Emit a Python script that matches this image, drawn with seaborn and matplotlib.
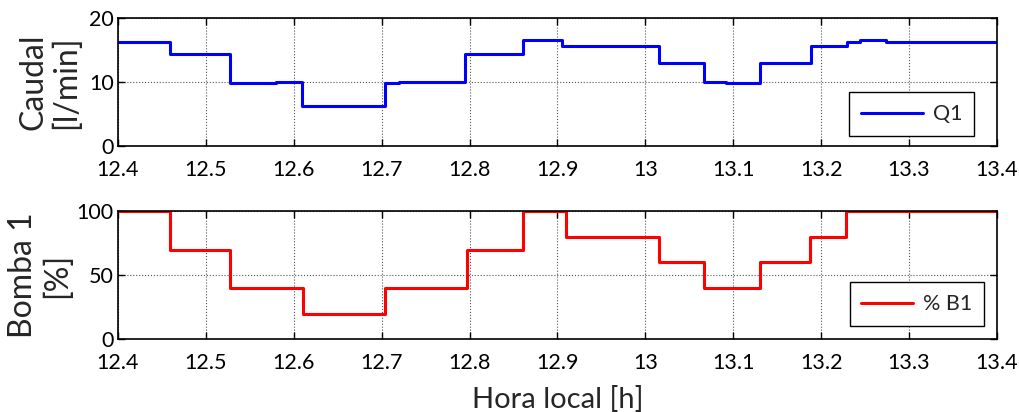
import numpy as np
import pandas as pd
import matplotlib
matplotlib.use("Agg")
import matplotlib.pyplot as plt
import seaborn as sns
from matplotlib.ticker import FormatStrFormatter, MultipleLocator

# Q1 flow [l/min], step breakpoints (time [h], value)
q1_time = [12.40, 12.459, 12.527, 12.58, 12.609, 12.704, 12.72, 12.795, 12.861,
           12.905, 13.015, 13.067, 13.092, 13.13, 13.188, 13.229, 13.244, 13.274, 13.40]
q1_vals = [16.3, 14.4, 9.8, 10.05, 6.3, 9.8, 10.05, 14.4, 16.6,
           15.7, 13.0, 10.05, 9.8, 13.0, 15.7, 16.3, 16.6, 16.3, 16.3]

# Pump 1 [%]
b1_time = [12.40, 12.459, 12.527, 12.611, 12.704, 12.797, 12.861, 12.91,
           13.016, 13.067, 13.13, 13.187, 13.228, 13.40]
b1_vals = [100, 70, 40, 20, 40, 70, 100, 80, 60, 40, 60, 80, 100, 100]

xticks = [12.4, 12.5, 12.6, 12.7, 12.8, 12.9, 13.0, 13.1, 13.2, 13.3, 13.4]

sns.set_theme(style="white")
plt.rcParams['font.family'] = ['Lato', 'DejaVu Sans']

fig = plt.figure(figsize=(10.19, 4.12), dpi=100)
ax1 = fig.add_axes([0.1158, 0.6456, 0.8626, 0.3107])
ax2 = fig.add_axes([0.1158, 0.1765, 0.8626, 0.3107])

df1 = pd.DataFrame({"t": q1_time, "v": q1_vals})
df2 = pd.DataFrame({"t": b1_time, "v": b1_vals})

sns.lineplot(data=df1, x="t", y="v", ax=ax1, color=(0, 0, 1), lw=2.2,
             drawstyle="steps-post", label="Q1", sort=False)
sns.lineplot(data=df2, x="t", y="v", ax=ax2, color=(1, 0, 0), lw=2.2,
             drawstyle="steps-post", label="% B1", sort=False)

for ax, ylim, ystep in [(ax1, (0, 20), 10), (ax2, (0, 100), 50)]:
    ax.set_xlim(12.4, 13.4)
    ax.set_ylim(*ylim)
    ax.set_xticks(xticks)
    ax.yaxis.set_major_locator(MultipleLocator(ystep))
    ax.xaxis.set_major_formatter(FormatStrFormatter('%g'))
    ax.tick_params(direction='in', length=5, width=1, top=True, right=True,
                   labelsize=15.5, colors='black', bottom=True, left=True)
    ax.tick_params(axis='x', pad=10)
    ax.tick_params(axis='y', pad=3)
    ax.grid(True, linestyle=':', color='#555555', linewidth=0.8)
    for s in ax.spines.values():
        s.set_color('black')
        s.set_linewidth(1.2)
    ax.set_xlabel("")

ax1.set_ylabel("Caudal\n[l/min]", fontsize=23, linespacing=1.1, va='center')
ax2.set_ylabel("Bomba 1\n[%]", fontsize=23, linespacing=1.15, va='center')
ax1.yaxis.set_label_coords(-0.078, 0.5)
ax2.yaxis.set_label_coords(-0.089, 0.5)
ax2.set_xlabel("Hora local [h]", fontsize=21, labelpad=9)

for ax, anchor, hl in [(ax1, (0.974, 0.078), 2.9), (ax2, (0.985, 0.104), 2.4)]:
    leg = ax.legend(loc='lower right', bbox_to_anchor=anchor, fontsize=15.5,
                    fancybox=False, framealpha=1, edgecolor='black',
                    handlelength=hl, handletextpad=0.45, borderpad=0.55,
                    borderaxespad=0)
    leg.get_frame().set_linewidth(1.0)

fig.savefig("out.png", dpi=100)
